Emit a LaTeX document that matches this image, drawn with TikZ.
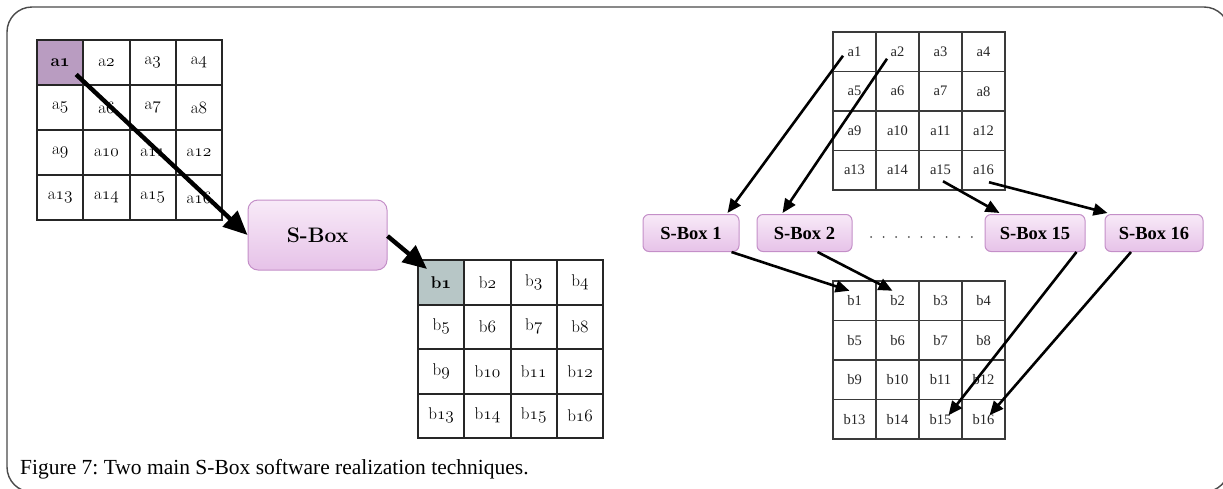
\documentclass[tikz,border=0pt]{standalone}
\usepackage{fontspec}
\newfontfamily\tms{Liberation Serif}
\usetikzlibrary{arrows.meta,calc}
\newcommand\osn[1]{{\usefont{OML}{cmm}{m}{it}#1}}
\newcommand\osnb[1]{{\usefont{OML}{cmm}{b}{it}#1}}
\frenchspacing
\definecolor{framec}{HTML}{4A4A4A}
\definecolor{gridl}{HTML}{262626}
\definecolor{gridr}{HTML}{3A3A3A}
\definecolor{afill}{HTML}{B99CC1}
\definecolor{bfill}{HTML}{B7C6C6}
\definecolor{sbtop}{HTML}{F8EAF8}
\definecolor{sbbot}{HTML}{E6C2E8}
\definecolor{sbdraw}{HTML}{C48FC8}
\tikzset{
  lcell/.style={draw=gridl, line width=2, inner sep=0, minimum width=46.3, minimum height=45,
    font=\fontsize{17}{20}\selectfont, text=black},
  lcellb/.style={lcell, minimum height=44.5},
  rcell/.style={draw=gridr, line width=1.3, inner sep=0, minimum width=43, minimum height=39.5,
    font=\tms\fontsize{14.5}{16}\selectfont, text=black!85},
  hla/.style={fill=afill, font=\fontsize{17}{20}\selectfont\bfseries},
  hlb/.style={fill=bfill, font=\fontsize{17}{20}\selectfont\bfseries},
  plain/.style={fill=white},
  sboxbig/.style={draw=sbdraw, line width=1, rounded corners=10, top color=sbtop, bottom color=sbbot,
    minimum width=139, minimum height=70, inner sep=0, font=\fontsize{21}{25}\selectfont\bfseries},
  sboxsm/.style={draw=sbdraw, line width=1, rounded corners=6, top color=sbtop, bottom color=sbbot,
    minimum height=37, inner sep=0, font=\tms\fontsize{18.5}{20}\selectfont\bfseries},
  bigarrow/.style={line width=4.4, -{Triangle[length=24,width=21]}},
  smarrow/.style={line width=2.6, -{Triangle[length=14,width=12]}},
}
\begin{document}
\begin{tikzpicture}[x=1pt,y=-1pt]
\useasboundingbox (0,0) rectangle (1223,488);
\clip (0,0) rectangle (1223,488);
% frame
\draw[framec, line width=1.4, rounded corners=25] (7,7) rectangle (1229,492);

% left input grid
\foreach \r in {0,...,3}{
  \foreach \c in {0,...,3}{
    \pgfmathtruncatemacro\n{4*\r+\c+1}
    \ifnum\n=1
      \node[lcell,hla] (La\n) at ({37+46.3*(\c+0.5)},{40+45*(\r+0.5)}) {a\osnb{\n}};
    \else
      \node[lcell,plain] (La\n) at ({37+46.3*(\c+0.5)},{40+45*(\r+0.5)}) {a\osn{\n}};
    \fi
  }
}
% left output grid
\foreach \r in {0,...,3}{
  \foreach \c in {0,...,3}{
    \pgfmathtruncatemacro\n{4*\r+\c+1}
    \ifnum\n=1
      \node[lcellb,hlb] (Lb\n) at ({418+46.3*(\c+0.5)},{260+44.5*(\r+0.5)}) {b\osnb{\n}};
    \else
      \node[lcellb,plain] (Lb\n) at ({418+46.3*(\c+0.5)},{260+44.5*(\r+0.5)}) {b\osn{\n}};
    \fi
  }
}
\node[sboxbig] (sbox) at (317.5,235) {S-Box};

\draw[bigarrow] ($(La1.center)+(16,12)$) -- (sbox.west);
\draw[bigarrow] ($(sbox.east)+(0,1)$) -- ($(Lb1.north west)+(10,10)$);

% right input grid
\foreach \r in {0,...,3}{
  \foreach \c in {0,...,3}{
    \pgfmathtruncatemacro\n{4*\r+\c+1}
    \node[rcell,fill=white] (Ra\n) at ({833+43*(\c+0.5)},{32+39.5*(\r+0.5)}) {a\n};
  }
}
% right output grid
\foreach \r in {0,...,3}{
  \foreach \c in {0,...,3}{
    \pgfmathtruncatemacro\n{4*\r+\c+1}
    \node[rcell,fill=white] (Rb\n) at ({833+43*(\c+0.5)},{281+39.5*(\r+0.5)}) {b\n};
  }
}
% S-boxes
\node[sboxsm, minimum width=96] (sb1) at (691,233) {S-Box 1};
\node[sboxsm, minimum width=95] (sb2) at (804.5,233) {S-Box 2};
\node[sboxsm, minimum width=100] (sb15) at (1035,233) {S-Box 15};
\node[sboxsm, minimum width=98] (sb16) at (1154,233) {S-Box 16};
\foreach \k in {0,...,8}{
  \fill[black!70] ({871+12.6*\k},237) circle (1);
}

\draw[smarrow] ($(Ra1.center)+(-11.5,4)$) -- ($(sb1.north east)+(-12,-1)$);
\draw[smarrow] ($(Ra2.center)+(-10.5,7)$) -- ($(sb2.north west)+(26,-1)$);
\draw[smarrow] ($(Ra15.center)+(2.5,11)$) -- ($(sb15.north west)+(15,-1)$);
\draw[smarrow] ($(Ra16.center)+(5.5,12)$) -- ($(sb16.north west)+(3,-1)$);

\draw[smarrow] ($(sb1.south east)+(-8,0)$) -- ($(Rb1.center)+(-5,-10)$);
\draw[smarrow] ($(sb2.south)+(13,0)$) -- ($(Rb2.center)+(-5,-10)$);
\draw[smarrow] ($(sb15.south east)+(-9,0)$) -- ($(Rb15.center)+(8,-4)$);
\draw[smarrow] ($(sb16.south)+(-23,0)$) -- ($(Rb16.center)+(6,-4)$);

% caption
\node[anchor=base west, inner sep=0, font=\tms\fontsize{21.5}{25}\selectfont] (cap) at (20,474)
  {Figure 7: Two main S-Box software realization techniques.};
\end{tikzpicture}
\end{document}
